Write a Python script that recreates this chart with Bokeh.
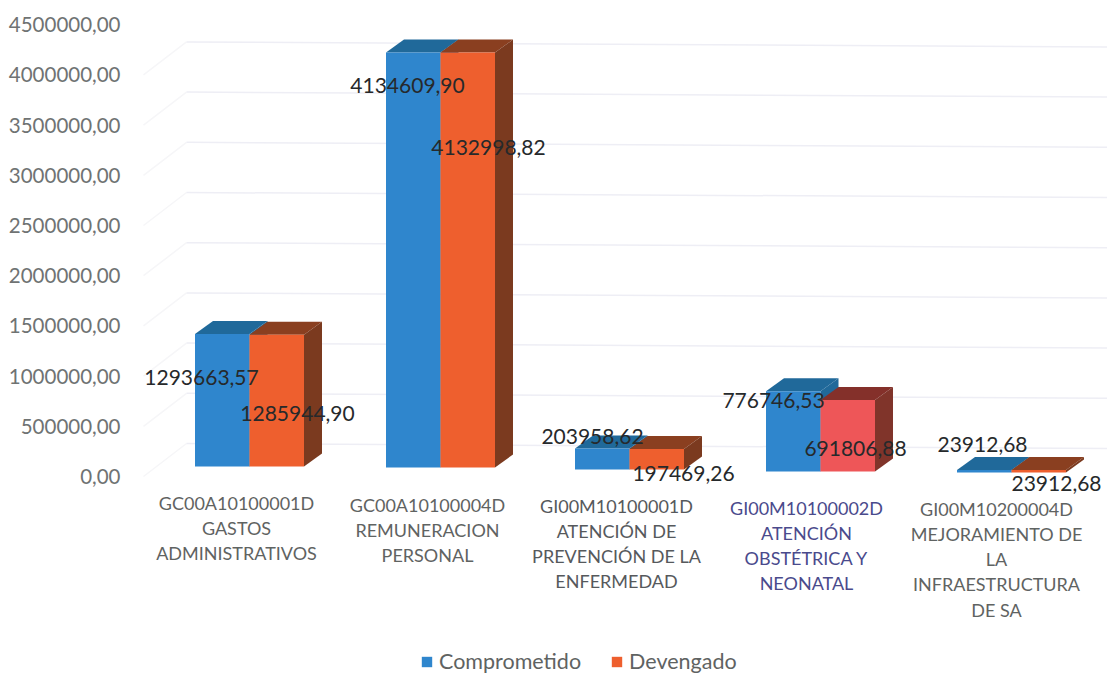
from bokeh.plotting import figure
from bokeh.embed import file_html
from bokeh.resources import INLINE
from bokeh.models import Range1d, FixedTicker, Legend, LegendItem
from bokeh.core.properties import value

categories = [
    "GC00A10100001D\nGASTOS\nADMINISTRATIVOS",
    "GC00A10100004D\nREMUNERACION\nPERSONAL",
    "GI00M10100001D\nATENCIÓN DE\nPREVENCIÓN DE LA\nENFERMEDAD",
    "GI00M10100002D\nATENCIÓN\nOBSTÉTRICA Y\nNEONATAL",
    "GI00M10200004D\nMEJORAMIENTO DE\nLA\nINFRAESTRUCTURA\nDE SA",
]
comprometido = [1293663.57, 4134609.90, 203958.62, 776746.53, 23912.68]
devengado = [1285944.90, 4132998.82, 197469.26, 691806.88, 23912.68]
comprometido_labels = ["1293663,57", "4134609,90", "203958,62", "776746,53", "23912,68"]
devengado_labels = ["1285944,90", "4132998,82", "197469,26", "691806,88", "23912,68"]
tick_values = [0, 500000, 1000000, 1500000, 2000000, 2500000, 3000000, 3500000, 4000000, 4500000]
tick_labels = ["0,00", "500000,00", "1000000,00", "1500000,00", "2000000,00",
               "2500000,00", "3000000,00", "3500000,00", "4000000,00", "4500000,00"]

# layout, in page pixels
PX_PER_UNIT = 100.4e-6
ZERO_Y = 476


def dv(px):
    return px / PX_PER_UNIT


def at(py):
    return (ZERO_Y - py) / PX_PER_UNIT


bar_left = [194.5, 385.5, 574.5, 765.5, 956.5]
bar_width = 54.5
depth_x, depth_y = 18, 13
bar_base = [466, 467, 469, 471, 472]
height_scale = [1.02, 1.0, 1.03, 1.03, 1.03]
label_x = [236, 427, 616, 806, 996]
label_top = [491, 493, 494, 496, 497]
c_lab_x = [201, 407, 592, 773, 982]
c_lab_y = [377, 85, 436, 400, 444]
d_lab_x = [297, 488, 683, 855, 1056]
d_lab_y = [413, 147, 473, 448, 483]
label_colors = ["#5f6362", "#5f6362", "#56595c", "#4a4a8c", "#5f6362"]

BLUE, BLUE_TOP = "#2f86cd", "#20699a"
ORANGE_TOP, ORANGE_SIDE = "#8a3f20", "#7b3a1f"
orange_front = ["#ee5f2e", "#ee5f2e", "#ee5f2e", "#ee5658", "#ee5f2e"]
orange_top = [ORANGE_TOP, ORANGE_TOP, ORANGE_TOP, "#84302a", ORANGE_TOP]
orange_side = [ORANGE_SIDE, ORANGE_SIDE, ORANGE_SIDE, "#80342a", ORANGE_SIDE]

p = figure(width=1107, height=673, output_backend="svg", toolbar_location=None,
           x_range=Range1d(130, 1107), y_range=Range1d(at(673), at(0)),
           min_border_left=130, min_border_right=0, min_border_top=0, min_border_bottom=0)
p.outline_line_color = None
p.grid.visible = False
p.xaxis.visible = False
ax = p.yaxis[0]
ax.ticker = FixedTicker(ticks=tick_values)
ax.major_label_overrides = dict(zip(tick_values, tick_labels))
ax.axis_line_color = None
ax.major_tick_line_color = None
ax.minor_tick_line_color = None
ax.major_label_standoff = 4
ax.major_label_text_font = "Lato"
ax.major_label_text_font_size = "20.5px"
ax.major_label_text_color = "#6f7373"

# chart floor and back wall lines
wall = [v for v in tick_values if v <= 4000000]
p.multi_line([[143, 186] for _ in wall], [[v, v + dv(33)] for v in wall],
             line_color="#f6f6f8", line_width=1.5)
p.multi_line([[186, 1107] for _ in wall], [[v + dv(33), v + dv(28)] for v in wall],
             line_color="#eeeef5", line_width=1.5)


def tops(i, vals):
    return at(bar_base[i]) + vals[i] * height_scale[i]


# depth faces, back to front
for i in range(5):
    x0 = bar_left[i]
    xm = x0 + bar_width
    x1 = xm + bar_width
    b = at(bar_base[i])
    tc = tops(i, comprometido)
    td = tops(i, devengado)
    p.patches([[xm, xm + depth_x, xm + depth_x, xm]],
              [[b, b + dv(depth_y), tc + dv(depth_y), tc]], fill_color=BLUE_TOP, line_color=None)
    p.patches([[x0, x0 + depth_x, xm + depth_x, xm]],
              [[tc, tc + dv(depth_y), tc + dv(depth_y), tc]], fill_color=BLUE_TOP, line_color=None)
    p.patches([[xm, xm + depth_x, x1 + depth_x, x1]],
              [[td, td + dv(depth_y), td + dv(depth_y), td]], fill_color=orange_top[i], line_color=None)
    p.patches([[x1, x1 + depth_x, x1 + depth_x, x1]],
              [[b, b + dv(depth_y), td + dv(depth_y), td]], fill_color=orange_side[i], line_color=None)

# front faces
bases = [at(y) for y in bar_base]
r_blue = p.quad(left=bar_left, right=[x + bar_width for x in bar_left],
                bottom=bases, top=[tops(i, comprometido) for i in range(5)],
                fill_color=BLUE, line_color=None)
r_orange = p.quad(left=[x + bar_width for x in bar_left], right=[x + 2 * bar_width for x in bar_left],
                  bottom=bases, top=[tops(i, devengado) for i in range(5)],
                  fill_color=orange_front, line_color=None)

# data labels
for xs, ys, txt in ((c_lab_x, c_lab_y, comprometido_labels), (d_lab_x, d_lab_y, devengado_labels)):
    p.text(xs, [at(y) for y in ys], text=txt, text_align="center", text_baseline="middle",
           text_font=value("Lato"), text_font_size="21px", text_color="#26292b")

# category labels
p.text(label_x, [at(y) for y in label_top], text=categories, text_align="center", text_baseline="top",
       text_font=value("Lato"), text_font_size="18px", text_color=label_colors, text_line_height=1.15)

legend = Legend(items=[LegendItem(label="Comprometido", renderers=[r_blue]),
                       LegendItem(label="Devengado", renderers=[r_orange])],
                orientation="horizontal", location=(290, -1), padding=0, margin=0, spacing=29,
                glyph_width=13, glyph_height=13, label_standoff=6,
                label_text_font="Lato", label_text_font_size="21.5px", label_text_color="#5f6362",
                border_line_color=None, background_fill_alpha=0)
p.add_layout(legend)

open("out.html", "w").write(file_html(p, INLINE))
